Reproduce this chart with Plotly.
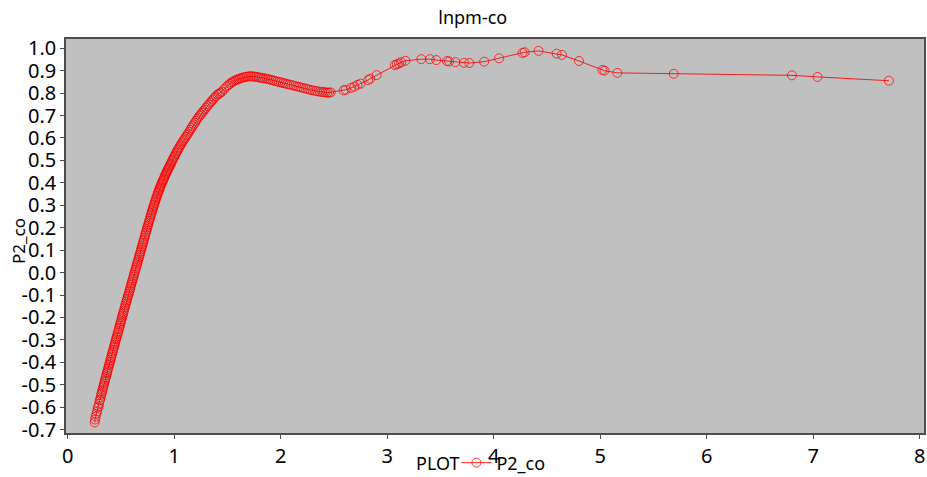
import plotly.graph_objects as go

TITLE = "lnpm-co"
X_LABEL = "PLOT"
Y_LABEL = "P2_co"
SERIES_NAME = "P2_co"

X_TICKS = [0, 1, 2, 3, 4, 5, 6, 7, 8]
Y_TICKS = [-0.7, -0.6, -0.5, -0.4, -0.3, -0.2, -0.1, 0.0, 0.1, 0.2,
           0.3, 0.4, 0.5, 0.6, 0.7, 0.8, 0.9, 1.0]
Y_TICK_LABELS = ["-0.7", "-0.6", "-0.5", "-0.4", "-0.3", "-0.2", "-0.1", "0.0", "0.1", "0.2",
                 "0.3", "0.4", "0.5", "0.6", "0.7", "0.8", "0.9", "1.0"]

plot_x = [
    0.252, 0.256, 0.262, 0.268, 0.275, 0.281, 0.288, 0.294, 0.299, 0.304,
    0.309, 0.313, 0.318, 0.322, 0.327, 0.331, 0.336, 0.340, 0.345, 0.349,
    0.353, 0.357, 0.362, 0.366, 0.370, 0.374, 0.379, 0.383, 0.387, 0.392,
    0.396, 0.400, 0.405, 0.409, 0.413, 0.418, 0.422, 0.426, 0.431, 0.435,
    0.440, 0.444, 0.448, 0.453, 0.457, 0.461, 0.466, 0.470, 0.474, 0.479,
    0.483, 0.487, 0.492, 0.496, 0.500, 0.505, 0.509, 0.514, 0.518, 0.522,
    0.527, 0.531, 0.536, 0.540, 0.545, 0.549, 0.554, 0.558, 0.563, 0.567,
    0.572, 0.576, 0.581, 0.585, 0.590, 0.594, 0.599, 0.603, 0.608, 0.612,
    0.617, 0.621, 0.626, 0.630, 0.635, 0.639, 0.644, 0.648, 0.653, 0.657,
    0.662, 0.666, 0.671, 0.675, 0.680, 0.684, 0.689, 0.693, 0.698, 0.702,
    0.707, 0.711, 0.716, 0.720, 0.725, 0.729, 0.734, 0.738, 0.743, 0.747,
    0.752, 0.756, 0.761, 0.765, 0.770, 0.774, 0.779, 0.783, 0.788, 0.792,
    0.797, 0.801, 0.806, 0.810, 0.815, 0.820, 0.824, 0.829, 0.833, 0.838,
    0.843, 0.847, 0.852, 0.857, 0.861, 0.866, 0.871, 0.876, 0.881, 0.886,
    0.891, 0.896, 0.901, 0.906, 0.911, 0.916, 0.922, 0.927, 0.932, 0.938,
    0.943, 0.949, 0.955, 0.961, 0.967, 0.973, 0.979, 0.985, 0.991, 0.998,
    1.004, 1.011, 1.018, 1.025, 1.032, 1.040, 1.048, 1.056, 1.064, 1.073,
    1.082, 1.091, 1.100, 1.110, 1.120, 1.130, 1.140, 1.150, 1.160, 1.171,
    1.182, 1.193, 1.204, 1.215, 1.226, 1.238, 1.250, 1.262, 1.274, 1.286,
    1.298, 1.311, 1.324, 1.337, 1.350, 1.363, 1.377, 1.391, 1.405, 1.419,
    1.432, 1.447, 1.468, 1.489, 1.506, 1.522, 1.536, 1.551, 1.565, 1.580,
    1.594, 1.608, 1.622, 1.636, 1.651, 1.666, 1.681, 1.697, 1.712, 1.727,
    1.742, 1.758, 1.774, 1.790, 1.806, 1.822, 1.838, 1.855, 1.872, 1.890,
    1.908, 1.926, 1.944, 1.962, 1.980, 2.000, 2.020, 2.040, 2.060, 2.080,
    2.100, 2.122, 2.145, 2.168, 2.190, 2.212, 2.234, 2.256, 2.278, 2.300,
    2.322, 2.344, 2.366, 2.388, 2.405, 2.420, 2.436, 2.452, 2.468,
    2.59, 2.61, 2.66, 2.69, 2.72, 2.75, 2.82, 2.84, 2.90, 3.07,
    3.09, 3.11, 3.13, 3.17, 3.32, 3.40, 3.46, 3.56, 3.58, 3.64,
    3.72, 3.77, 3.91, 4.05, 4.27, 4.29, 4.42, 4.59, 4.64, 4.80,
    5.02, 5.04, 5.16, 5.69, 6.80, 7.04, 7.71,
]

p2_co = [
    -0.668, -0.655, -0.642, -0.630, -0.618, -0.602, -0.596, -0.585, -0.571, -0.566,
    -0.556, -0.545, -0.538, -0.529, -0.522, -0.512, -0.505, -0.496, -0.488, -0.481,
    -0.472, -0.466, -0.458, -0.449, -0.444, -0.436, -0.428, -0.421, -0.412, -0.405,
    -0.398, -0.390, -0.381, -0.375, -0.366, -0.359, -0.352, -0.345, -0.336, -0.329,
    -0.321, -0.313, -0.306, -0.297, -0.291, -0.284, -0.275, -0.268, -0.262, -0.252,
    -0.246, -0.238, -0.230, -0.223, -0.216, -0.207, -0.199, -0.192, -0.184, -0.177,
    -0.170, -0.161, -0.154, -0.146, -0.139, -0.131, -0.124, -0.117, -0.108, -0.101,
    -0.094, -0.086, -0.079, -0.071, -0.064, -0.055, -0.048, -0.041, -0.033, -0.026,
    -0.018, -0.011, -0.003, 0.005, 0.012, 0.020, 0.027, 0.035, 0.043, 0.050,
    0.057, 0.066, 0.073, 0.080, 0.088, 0.095, 0.103, 0.111, 0.118, 0.126,
    0.133, 0.141, 0.148, 0.156, 0.164, 0.171, 0.179, 0.186, 0.194, 0.202,
    0.209, 0.216, 0.224, 0.231, 0.239, 0.246, 0.254, 0.261, 0.268, 0.275,
    0.282, 0.289, 0.296, 0.302, 0.310, 0.316, 0.323, 0.330, 0.336, 0.342,
    0.349, 0.355, 0.361, 0.367, 0.373, 0.379, 0.385, 0.391, 0.397, 0.402,
    0.408, 0.413, 0.418, 0.424, 0.430, 0.435, 0.441, 0.446, 0.452, 0.457,
    0.463, 0.468, 0.474, 0.480, 0.485, 0.491, 0.497, 0.503, 0.509, 0.515,
    0.521, 0.527, 0.533, 0.540, 0.546, 0.553, 0.559, 0.566, 0.572, 0.579,
    0.586, 0.592, 0.599, 0.606, 0.613, 0.620, 0.628, 0.636, 0.644, 0.652,
    0.660, 0.668, 0.676, 0.684, 0.691, 0.699, 0.706, 0.713, 0.720, 0.727,
    0.734, 0.742, 0.749, 0.757, 0.764, 0.771, 0.779, 0.786, 0.793, 0.797,
    0.801, 0.806, 0.818, 0.828, 0.835, 0.841, 0.847, 0.851, 0.855, 0.858,
    0.861, 0.863, 0.866, 0.868, 0.870, 0.872, 0.873, 0.874, 0.875, 0.874,
    0.874, 0.873, 0.872, 0.870, 0.869, 0.867, 0.866, 0.865, 0.863, 0.861,
    0.859, 0.857, 0.854, 0.852, 0.850, 0.848, 0.845, 0.843, 0.840, 0.838,
    0.836, 0.833, 0.830, 0.828, 0.825, 0.822, 0.820, 0.817, 0.814, 0.812,
    0.810, 0.808, 0.806, 0.805, 0.804, 0.803, 0.802, 0.802, 0.803,
    0.812, 0.815, 0.823, 0.829, 0.837, 0.842, 0.858, 0.864, 0.880, 0.925,
    0.928, 0.932, 0.937, 0.944, 0.951, 0.951, 0.947, 0.943, 0.941, 0.938,
    0.935, 0.934, 0.940, 0.955, 0.979, 0.982, 0.988, 0.976, 0.970, 0.943,
    0.903, 0.900, 0.890, 0.886, 0.879, 0.872, 0.855,
]

FONT = "Noto Sans"

fig = go.Figure()
fig.add_trace(go.Scatter(
    x=plot_x, y=p2_co, name=SERIES_NAME, mode="lines+markers",
    line=dict(color="rgba(255,0,0,0.85)", width=1),
    marker=dict(symbol="circle-open", size=9, color="rgba(255,0,0,0.75)",
                line=dict(width=1, color="rgba(255,0,0,0.75)")),
    showlegend=True,
))

fig.update_layout(
    width=927, height=477,
    margin=dict(l=66, r=3, t=39, b=44, autoexpand=False),
    paper_bgcolor="white",
    plot_bgcolor="#C0C0C0",
    font=dict(family=FONT, color="black"),
    title=dict(text=TITLE, x=0.51, xanchor="center", y=0.962, yanchor="middle",
               font=dict(size=18, family=FONT, color="black")),
    showlegend=True,
    legend=dict(orientation="h", x=0.455, xanchor="left", y=-0.076, yanchor="middle",
                bgcolor="rgba(0,0,0,0)", font=dict(size=18, family=FONT, color="black"),
                itemwidth=30, tracegroupgap=0),
    annotations=[
        dict(text=X_LABEL, xref="paper", yref="paper", x=0.434, y=-0.076,
             xanchor="center", yanchor="middle", showarrow=False,
             font=dict(size=18, family=FONT, color="black")),
        dict(text=Y_LABEL, xref="paper", yref="paper", x=-0.056, y=0.487,
             xanchor="center", yanchor="middle", showarrow=False, textangle=-90,
             font=dict(size=17, family=FONT, color="black")),
    ],
)

fig.update_xaxes(
    range=[-0.017, 8.04], tickvals=X_TICKS, ticks="outside", ticklen=4,
    tickcolor="#4d4d4d", tickfont=dict(size=20, family=FONT, color="black"),
    showgrid=False, zeroline=False, showline=True, mirror=True,
    linecolor="#4d4d4d", linewidth=1.5, automargin=False,
)
fig.update_yaxes(
    range=[-0.715, 1.041], tickvals=Y_TICKS, ticktext=Y_TICK_LABELS,
    ticks="outside", ticklen=4, tickcolor="#4d4d4d",
    tickfont=dict(size=20, family=FONT, color="black"),
    showgrid=False, zeroline=False, showline=True, mirror=True,
    linecolor="#4d4d4d", linewidth=1.5, automargin=False,
)

fig.write_html(
    "out.html",
    config={"responsive": False, "displayModeBar": False},
    post_script="document.body.style.margin='0';document.body.style.padding='0';"
                "document.body.style.overflow='hidden';"
                "document.documentElement.style.overflow='hidden';",
)
